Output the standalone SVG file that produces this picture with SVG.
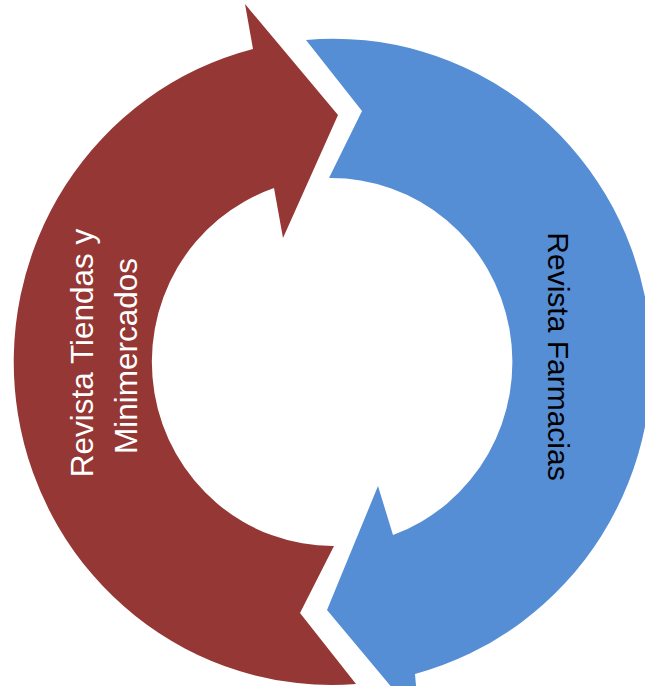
<svg xmlns="http://www.w3.org/2000/svg" width="645" height="686" viewBox="0 0 645 686">
  <style>
    .bg { fill: #ffffff; }
    .red { fill: #953735; }
    .blue { fill: #558ED5; }
    .lbl { font-family: "Liberation Sans", Arial, sans-serif; text-anchor: middle; }
    .lbl-w { fill: #ffffff; font-size: 31.5px; }
    .lbl-b { fill: #000000; font-size: 30px; }
  </style>
  <rect class="bg" x="0" y="0" width="645" height="686"/>
  <g id="node-tiendas">
    <path class="red" d="M 253 49 L 245 4 L 338 115 L 283 238 L 274 188 A 181 184 0 0 0 334 546 L 300 613 L 356 684 A 318 323 0 0 1 253 49 Z"/>
    <text class="lbl lbl-w" transform="translate(93,353) rotate(-90)" x="0" y="0">Revista Tiendas y</text>
    <text class="lbl lbl-w" transform="translate(137,356) rotate(-90)" x="0" y="0">Minimercados</text>
  </g>
  <g id="node-farmacias">
    <path class="blue" d="M 306 40 A 318 323 0 0 1 415 674 L 419 720 L 327 610 L 378 486 L 393 535 A 181 184 0 0 0 329 178 L 362 111 Z"/>
    <text class="lbl lbl-b" transform="translate(548,356.5) rotate(90)" x="0" y="0">Revista Farmacias</text>
  </g>
</svg>
